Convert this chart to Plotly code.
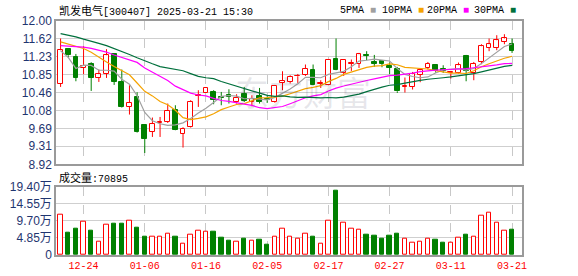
import plotly.graph_objects as go

dates = ["12-19","12-20","12-23","12-24","12-25","12-26","12-27","12-30","12-31",
         "01-02","01-03","01-06","01-07","01-08","01-09","01-10","01-13","01-14","01-15","01-16",
         "01-17","01-20","01-21","01-22","01-23","01-24","01-27",
         "02-05","02-06","02-07","02-10","02-11","02-12","02-13","02-14","02-17","02-18","02-19",
         "02-20","02-21","02-24","02-25","02-26","02-27","02-28",
         "03-03","03-04","03-05","03-06","03-07","03-10","03-11","03-12","03-13","03-14",
         "03-17","03-18","03-19","03-20","03-21"]

open_ = [10.656,11.394,11.221,10.991,11.077,10.785,10.871,11.292,10.684,10.161,
         10.361,9.759,9.615,9.802,9.839,10.082,9.581,9.723,10.398,10.462,
         10.475,10.368,10.411,10.269,10.426,10.260,10.383,10.318,10.254,10.669,
         10.690,10.813,10.841,10.942,10.656,10.634,11.194,10.892,11.086,11.077,
         11.280,11.114,11.142,11.043,10.978,10.583,10.583,10.849,11.000,11.065,
         10.978,10.877,10.892,11.249,10.884,11.120,11.430,11.430,11.551,11.501]
high = [11.624,11.415,11.292,11.458,11.114,10.957,11.394,11.301,10.957,10.619,
        10.469,9.774,9.925,9.938,10.226,10.189,9.716,10.297,10.512,10.576,
        10.512,10.475,10.533,10.426,10.583,10.404,10.561,10.383,10.626,10.920,
        10.834,10.862,11.065,11.065,10.727,11.178,11.624,11.172,11.172,11.314,
        11.351,11.271,11.142,11.108,11.013,10.785,10.905,10.957,11.120,11.071,
        11.049,10.927,11.108,11.271,11.120,11.501,11.624,11.695,11.716,11.624]
low = [10.583,11.215,10.705,10.856,10.497,10.690,10.776,10.626,10.140,9.989,
       9.602,9.163,9.508,9.508,9.809,9.652,9.280,9.710,10.153,10.458,
       10.211,10.189,10.226,10.226,10.260,10.168,10.226,10.239,10.239,10.512,
       10.656,10.669,10.819,10.613,10.561,10.619,10.942,10.819,10.927,10.991,
       11.157,11.013,11.006,10.856,10.454,10.462,10.527,10.684,10.957,10.892,
       10.884,10.763,10.871,10.705,10.727,11.071,11.351,11.372,11.501,11.314]
close = [11.372,11.265,10.776,11.034,10.776,10.856,11.265,10.690,10.153,10.247,
         9.615,9.473,9.796,9.824,10.075,9.667,9.688,10.269,10.419,10.570,
         10.297,10.340,10.368,10.355,10.282,10.333,10.260,10.297,10.613,10.720,
         10.806,10.828,10.978,10.619,10.669,11.172,10.957,11.172,11.108,11.286,
         11.258,11.077,11.077,11.000,10.490,10.613,10.856,10.942,11.086,10.920,
         10.935,10.899,11.049,10.927,11.086,11.458,11.501,11.587,11.624,11.357]
volume = [11.55,6.25,7.38,9.56,6.81,3.88,8.71,8.80,8.80,9.84,
          7.67,5.11,5.11,5.30,6.15,5.11,3.31,5.87,7.00,6.72,
          6.53,4.83,3.97,3.69,4.54,3.97,4.26,2.84,5.11,7.38,
          5.11,4.54,5.96,5.11,3.12,9.65,18.26,9.08,7.48,7.10,
          5.68,5.49,4.64,5.49,6.06,4.54,3.41,3.69,4.54,4.26,
          3.41,3.41,4.83,5.68,5.11,11.07,11.92,9.08,6.81,7.09]

ma5_head = [11.36, 11.22, 10.98, 11.05]
ma10_head = [11.55, 11.50, 11.46, 11.41, 11.33, 11.22, 11.12, 11.02, 10.94]
ma20_head = [11.47, 11.46, 11.45, 11.44, 11.41, 11.37, 11.33, 11.27, 11.22, 11.16,
             11.11, 10.99, 10.90, 10.82, 10.72, 10.60, 10.52, 10.45, 10.41]
ma30_head = [11.73, 11.70, 11.66, 11.61, 11.57, 11.52, 11.47, 11.41, 11.35, 11.28,
             11.21, 11.14, 11.08, 11.02, 10.99, 10.97, 10.93, 10.87, 10.81, 10.78,
             10.76, 10.70, 10.65, 10.60, 10.55, 10.50, 10.44, 10.40, 10.38]

price_ticks = [8.92, 9.31, 9.69, 10.08, 10.46, 10.85, 11.23, 11.62, 12.00]
vol_ticks = [0, 4.85, 9.70, 14.55, 19.40]
vol_ticktext = ["0", "4.85万", "9.70万", "14.55万", "19.40万"]
date_ticks = ["12-24", "01-06", "01-16", "02-05", "02-17", "02-27", "03-11", "03-21"]
last_volume = "70895"


def ma(n, head):
    out = []
    for i in range(len(close)):
        if i >= n - 1:
            out.append(sum(close[i - n + 1:i + 1]) / n)
        else:
            out.append(head[i])
    return out


RED = "#ff0000"
GREEN = "#008000"
ma_colors = {"5PMA": "#a0a0a0", "10PMA": "#f5a300", "20PMA": "#ff00ff", "30PMA": "#00703c"}

fig = go.Figure()

# wicks (split around body so hollow bodies stay hollow)
for up, col in ((True, RED), (False, GREEN)):
    wx, wy = [], []
    for i, d in enumerate(dates):
        is_up = close[i] >= open_[i]
        if is_up != up:
            continue
        top = max(open_[i], close[i])
        bot = min(open_[i], close[i])
        wx += [d, d, None, d, d, None]
        wy += [low[i], bot, None, top, high[i], None]
    fig.add_trace(go.Scatter(x=wx, y=wy, mode="lines", line=dict(color=col, width=1),
                             hoverinfo="skip", showlegend=False, xaxis="x", yaxis="y"))

# bodies
for up, col, fill in ((True, RED, "white"), (False, GREEN, GREEN)):
    bx, bbase, bh = [], [], []
    for i, d in enumerate(dates):
        is_up = close[i] >= open_[i]
        if is_up != up:
            continue
        bot = min(open_[i], close[i])
        h = max(abs(close[i] - open_[i]), 0.012)
        bx.append(d)
        bbase.append(bot)
        bh.append(h)
    fig.add_trace(go.Bar(x=bx, y=bh, base=bbase, width=0.62,
                         marker=dict(color=fill, line=dict(color=col, width=1)),
                         showlegend=False, hoverinfo="skip", xaxis="x", yaxis="y"))

# moving averages
for name, n, head in (("5PMA", 5, ma5_head), ("10PMA", 10, ma10_head),
                      ("20PMA", 20, ma20_head), ("30PMA", 30, ma30_head)):
    fig.add_trace(go.Scatter(x=dates, y=ma(n, head), mode="lines",
                             line=dict(color=ma_colors[name], width=1.2),
                             showlegend=False, hoverinfo="skip", xaxis="x", yaxis="y"))

# volume
for up, col, fill in ((True, RED, "white"), (False, GREEN, GREEN)):
    vx, vy = [], []
    for i, d in enumerate(dates):
        if (close[i] >= open_[i]) != up:
            continue
        vx.append(d)
        vy.append(volume[i])
    fig.add_trace(go.Bar(x=vx, y=vy, width=0.58,
                         marker=dict(color=fill, line=dict(color=col, width=1)),
                         showlegend=False, hoverinfo="skip", xaxis="x2", yaxis="y2"))

frame = dict(showline=True, mirror=True, linecolor="#9a9a9a", linewidth=1.5, zeroline=False,
             automargin=False)
xcommon = dict(type="category", categoryorder="array", categoryarray=dates,
               range=[-0.6, 60.3], tickvals=date_ticks, ticktext=date_ticks,
               showgrid=True, gridcolor="#c8c8c8", griddash="dash", gridwidth=1, ticks="",
               **frame)
tickfont_y = dict(family="Liberation Sans, Arial", size=12, color="#1f3570")

fig.update_layout(
    width=578, height=276,
    margin=dict(l=56, r=56, t=21, b=21),
    paper_bgcolor="white", plot_bgcolor="white",
    barmode="overlay", bargap=0,
    showlegend=False,
    xaxis=dict(domain=[0, 1], anchor="y", showticklabels=False, **xcommon),
    xaxis2=dict(domain=[0, 1], anchor="y2", matches="x", showticklabels=True,
                tickfont=dict(family="Liberation Mono, monospace", size=10, color=RED),
                **xcommon),
    yaxis=dict(domain=[0.3876, 1.0], anchor="x", range=[8.92, 12.00],
               tickvals=price_ticks, ticktext=[f"{v:.2f}" for v in price_ticks],
               showgrid=True, gridcolor="#cfcfcf", gridwidth=1, ticks="",
               tickfont=tickfont_y, **frame),
    yaxis2=dict(domain=[0, 0.2919], anchor="x2", range=[0, 19.40],
                tickvals=vol_ticks, ticktext=vol_ticktext,
                showgrid=True, gridcolor="#cfcfcf", gridwidth=1, ticks="",
                tickfont=dict(family="Liberation Sans, Noto Sans CJK SC", size=12, color="#1f3570"),
                **frame),
)

cjk = "Noto Sans CJK SC"
mono = "Liberation Mono, monospace"

# title
fig.add_annotation(xref="paper", yref="paper", x=0.002, y=1.045, xanchor="left", yanchor="middle",
                   text=f'<span style="font-family:{cjk};font-size:11px">凯发电气</span>[300407] 2025-03-21 15:30',
                   showarrow=False, font=dict(family=mono, size=10, color="#000000"))

# legend
legend_pos = [("5PMA", 338), ("10PMA", 380), ("20PMA", 425), ("30PMA", 472)]
for name, px in legend_pos:
    xp = (px - 56) / 466
    fig.add_annotation(xref="paper", yref="paper", x=xp, y=1.045, xanchor="left", yanchor="middle",
                       text=f'{name} <span style="color:{ma_colors[name]}">■</span>',
                       showarrow=False, font=dict(family=mono, size=10, color="#000000"))

# volume label
fig.add_annotation(xref="paper", yref="paper", x=0.002, y=0.333, xanchor="left", yanchor="middle",
                   text=f'<span style="font-family:{cjk};font-size:11px">成交量</span>:{last_volume}',
                   showarrow=False, font=dict(family=mono, size=10, color="#000000"))

# watermark
fig.add_annotation(xref="paper", yref="paper", x=0.53, y=0.70, xanchor="center", yanchor="middle",
                   text="东方财富", showarrow=False,
                   font=dict(family=cjk, size=34, color="rgba(60,60,90,0.12)"))

fig.write_html("out.html")
